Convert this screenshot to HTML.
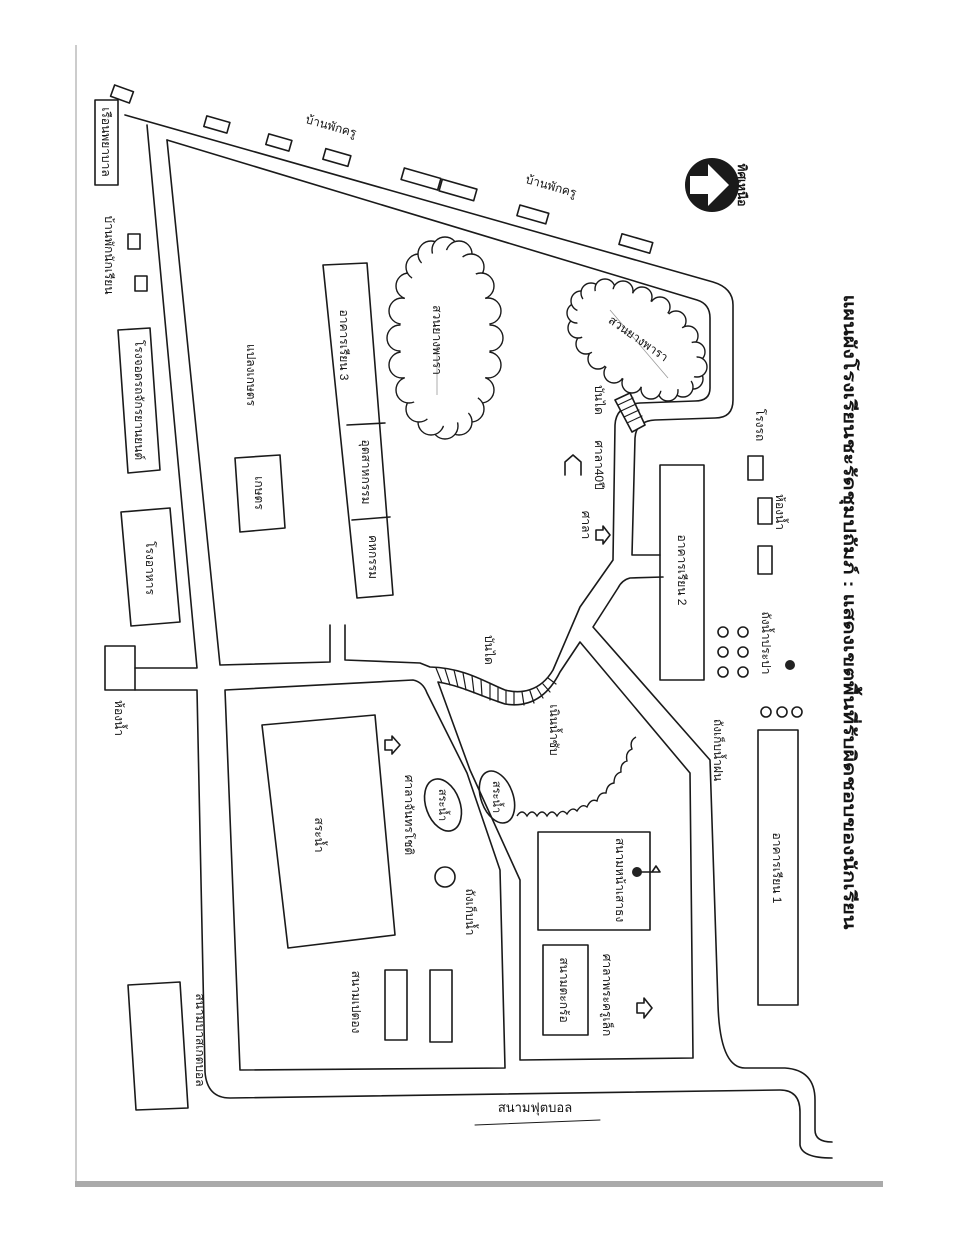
<!DOCTYPE html>
<html><head><meta charset="utf-8"><style>
html,body{margin:0;padding:0;background:#fff}
svg{display:block}
text{font-family:"Liberation Sans","Noto Sans CJK SC",sans-serif;fill:#151515}
</style></head><body>
<svg width="956" height="1238" viewBox="0 0 956 1238" xmlns="http://www.w3.org/2000/svg">
<rect width="956" height="1238" fill="#fff"/>
<line x1="76" y1="45" x2="76" y2="1185" stroke="#bbb" stroke-width="1.5"/>
<rect x="75" y="1181" width="808" height="6" fill="#aaa"/>

<!-- clouds first (under roads) -->
<g stroke="#1a1a1a" stroke-width="1.4" fill="#fff">
<circle cx="490" cy="338" r="13"/><circle cx="488" cy="365" r="13"/><circle cx="481" cy="390" r="13"/><circle cx="471" cy="409" r="13"/><circle cx="459" cy="422" r="13"/><circle cx="445" cy="426" r="13"/><circle cx="431" cy="422" r="13"/><circle cx="419" cy="409" r="13"/><circle cx="409" cy="390" r="13"/><circle cx="402" cy="365" r="13"/><circle cx="400" cy="338" r="13"/><circle cx="402" cy="311" r="13"/><circle cx="409" cy="286" r="13"/><circle cx="419" cy="267" r="13"/><circle cx="431" cy="254" r="13"/><circle cx="445" cy="250" r="13"/><circle cx="459" cy="254" r="13"/><circle cx="471" cy="267" r="13"/><circle cx="481" cy="286" r="13"/><circle cx="488" cy="311" r="13"/>
<circle cx="693" cy="379" r="10"/><circle cx="683" cy="387" r="10"/><circle cx="668" cy="391" r="10"/><circle cx="651" cy="389" r="10"/><circle cx="632" cy="383" r="10"/><circle cx="614" cy="373" r="10"/><circle cx="598" cy="359" r="10"/><circle cx="586" cy="344" r="10"/><circle cx="578" cy="328" r="10"/><circle cx="577" cy="313" r="10"/><circle cx="581" cy="301" r="10"/><circle cx="591" cy="293" r="10"/><circle cx="605" cy="289" r="10"/><circle cx="623" cy="291" r="10"/><circle cx="642" cy="297" r="10"/><circle cx="660" cy="307" r="10"/><circle cx="676" cy="321" r="10"/><circle cx="688" cy="336" r="10"/><circle cx="695" cy="352" r="10"/><circle cx="697" cy="367" r="10"/>
</g>
<g fill="#fff">
<ellipse cx="445" cy="338" rx="45" ry="88"/>
<ellipse cx="637" cy="340" rx="68" ry="40" transform="rotate(35 637 340)"/>
</g>
<line x1="437" y1="345" x2="437" y2="395" stroke="#999" stroke-width="0.8"/>
<line x1="610" y1="310" x2="668" y2="378" stroke="#999" stroke-width="0.8"/>

<g fill="none" stroke="#1a1a1a" stroke-width="1.6" stroke-linejoin="round" stroke-linecap="round">
<path d="M125,115 L713,282 Q733,288 733,305 L733,400 Q733,418 715,418 L655,420 Q636,421 635,438 L632,555 L660,555"/>
<path d="M167,140 L697,300 Q710,304 710,318 L710,388 Q710,401 695,401 L640,403 Q616,405 615,425 L613,560 L580,607 L553,670 C540,692 520,694 505,690 C485,682 465,668 430,667 L420,663 L345,660 L345,625"/>
<path d="M330,625 L330,662 L220,665 L167,140"/>
<path d="M147,125 L197,668 L135,668"/>
<path d="M135,690 L197,690 L205,1072 Q207,1098 230,1098 L780,1090 Q800,1090 800,1112 L800,1145 Q802,1158 832,1158"/>
<path d="M225,690 L413,680 Q423,682 427,693 L467,773 L500,870 L505,1068 L240,1070 Z"/>
<path d="M438,682 C462,686 480,696 505,704 C530,708 548,696 560,672 L580,642 L690,773 L693,1058 L520,1060 L520,880 L470,770 Z"/>
<path d="M663,577 L630,578 Q622,580 618,588 L593,627 L710,760 L718,1005 Q720,1068 745,1068 L785,1068 Q815,1070 815,1100 L815,1130 Q815,1142 832,1142"/>
<g stroke-width="1.2">
<line x1="436" y1="668" x2="442" y2="683"/><line x1="445" y1="669" x2="450" y2="685"/><line x1="454" y1="670" x2="458" y2="687"/>
<line x1="463" y1="673" x2="466" y2="690"/><line x1="472" y1="676" x2="474" y2="693"/><line x1="481" y1="680" x2="482" y2="696"/>
<line x1="490" y1="684" x2="490" y2="700"/><line x1="498" y1="688" x2="498" y2="702"/><line x1="506" y1="690" x2="506" y2="704"/>
<line x1="514" y1="692" x2="514" y2="705"/><line x1="522" y1="692" x2="524" y2="705"/><line x1="530" y1="691" x2="534" y2="703"/>
<line x1="537" y1="688" x2="543" y2="698"/><line x1="543" y1="684" x2="550" y2="692"/><line x1="548" y1="678" x2="556" y2="684"/>
</g>
<path d="M615,400 L630,393 L645,425 L632,432 Z" fill="#fff"/>
<g stroke-width="1.1"><line x1="618" y1="405" x2="633" y2="398"/><line x1="621" y1="411" x2="636" y2="404"/><line x1="624" y1="417" x2="639" y2="410"/><line x1="627" y1="423" x2="642" y2="416"/></g>

<rect x="112" y="88" width="20" height="12" transform="rotate(20 122 94)"/>
<rect x="205" y="119" width="24" height="11" transform="rotate(16 217 124)"/>
<rect x="267" y="137" width="24" height="11" transform="rotate(16 279 142)"/>
<rect x="324" y="152" width="26" height="11" transform="rotate(16 337 157)"/>
<rect x="402" y="173" width="38" height="12" transform="rotate(16 421 179)"/>
<rect x="440" y="184" width="36" height="12" transform="rotate(16 458 190)"/>
<rect x="518" y="209" width="30" height="11" transform="rotate(16 533 214)"/>
<rect x="620" y="238" width="32" height="11" transform="rotate(16 636 243)"/>

<rect x="95" y="100" width="23" height="85"/>
<rect x="128" y="234" width="12" height="15"/>
<rect x="135" y="276" width="12" height="15"/>
<polygon points="118,330 150,328 160,470 128,473"/>
<polygon points="121,512 170,508 180,622 131,626"/>
<rect x="105" y="646" width="30" height="44"/>

<polygon points="323,265 367,263 393,595 357,598"/>
<line x1="347" y1="425" x2="385" y2="423"/>
<line x1="352" y1="520" x2="390" y2="517"/>
<polygon points="235,458 280,455 285,528 240,532"/>

<rect x="660" y="465" width="44" height="215"/>
<rect x="748" y="456" width="15" height="24"/>
<rect x="758" y="498" width="14" height="26"/>
<rect x="758" y="546" width="14" height="28"/>
<rect x="758" y="730" width="40" height="275"/>
<polygon points="262,725 375,715 395,935 288,948"/>
<path d="M385,740 L392,740 L392,736 L400,745 L392,754 L392,750 L385,750 Z"/>
<path d="M565,475 L565,462 L573,455 L581,462 L581,475" />
<path d="M596,530 L603,530 L603,526 L610,535 L603,544 L603,540 L596,540 Z"/>
<path d="M637,1003 L644,1003 L644,998 L652,1008 L644,1018 L644,1013 L637,1013 Z"/>
<ellipse cx="443" cy="805" rx="17" ry="27" transform="rotate(-20 443 805)"/>
<ellipse cx="497" cy="797" rx="16" ry="27" transform="rotate(-20 497 797)"/>
<circle cx="445" cy="877" r="10"/>
<rect x="385" y="970" width="22" height="70"/>
<rect x="430" y="970" width="22" height="72"/>
<polygon points="128,985 180,982 188,1108 136,1110"/>
<rect x="538" y="832" width="112" height="98"/>
<rect x="543" y="945" width="45" height="90"/>
<line x1="640" y1="872" x2="652" y2="872"/>
<path d="M652,872 L656,866 L660,872 Z"/>
<line x1="475" y1="1125" x2="600" y2="1120" stroke-width="1"/>
<circle cx="723" cy="632" r="5"/><circle cx="723" cy="652" r="5"/><circle cx="723" cy="672" r="5"/>
<circle cx="743" cy="632" r="5"/><circle cx="743" cy="652" r="5"/><circle cx="743" cy="672" r="5"/>
<circle cx="766" cy="712" r="5"/><circle cx="782" cy="712" r="5"/><circle cx="797" cy="712" r="5"/>
</g>
<circle cx="790" cy="665" r="5" fill="#222"/>
<circle cx="637" cy="872" r="5" fill="#222"/>

<path d="M517,816 q5,-8 10,0 q5,-8 10,0 q5,-8 10,0 q5,-8 10,0 q5,-8 10,-2 q5,-8 10,-3 q5,-8 10,-4 q4,-9 10,-6 q2,-9 9,-8 q1,-9 8,-10 q0,-9 7,-11 q-1,-9 6,-11 q-2,-9 5,-12 q-3,-8 4,-12" fill="none" stroke="#1a1a1a" stroke-width="1.4"/>

<circle cx="712" cy="185" r="27" fill="#1a1a1a"/>
<path d="M690,176 L708,176 L708,164 L729,185 L708,206 L708,194 L690,194 Z" fill="#fff"/>

<g font-size="12">
<text transform="translate(102,142) rotate(90)" text-anchor="middle">เรือนพยาบาล</text>
<text transform="translate(105,255) rotate(90)" text-anchor="middle">บ้านพักนักเรียน</text>
<text transform="translate(135,400) rotate(90)" text-anchor="middle">โรงจอดรถจักรยานยนต์</text>
<text transform="translate(146,568) rotate(90)" text-anchor="middle">โรงอาหาร</text>
<text transform="translate(115,718) rotate(90)" text-anchor="middle">ห้องน้ำ</text>
<text transform="translate(247,375) rotate(90)" text-anchor="middle">แปลงเกษตร</text>
<text transform="translate(255,493) rotate(90)" text-anchor="middle">เกษตร</text>
<text transform="translate(340,345) rotate(90)" text-anchor="middle">อาคารเรียน 3</text>
<text transform="translate(362,472) rotate(90)" text-anchor="middle">อุตสาหกรรม</text>
<text transform="translate(369,557) rotate(90)" text-anchor="middle">คหกรรม</text>
<text transform="translate(433,340) rotate(90)" text-anchor="middle">สวนยางพารา</text>
<text transform="translate(636,342) rotate(35)" text-anchor="middle">สวนยางพารา</text>
<text transform="translate(595,400) rotate(90)" text-anchor="middle">บันได</text>
<text transform="translate(595,465) rotate(90)" text-anchor="middle">ศาลา40ปี</text>
<text transform="translate(582,525) rotate(90)" text-anchor="middle">ศาลา</text>
<text transform="translate(485,650) rotate(90)" text-anchor="middle">บันได</text>
<text transform="translate(678,570) rotate(90)" text-anchor="middle">อาคารเรียน 2</text>
<text transform="translate(756,425) rotate(90)" text-anchor="middle">โรงรถ</text>
<text transform="translate(776,512) rotate(90)" text-anchor="middle">ห้องน้ำ</text>
<text transform="translate(762,643) rotate(90)" text-anchor="middle">ถังน้ำประปา</text>
<text transform="translate(714,750) rotate(90)" text-anchor="middle">ถังเก็บน้ำฝน</text>
<text transform="translate(773,868) rotate(90)" text-anchor="middle">อาคารเรียน 1</text>
<text transform="translate(315,835) rotate(90)" text-anchor="middle">สระน้ำ</text>
<text transform="translate(405,815) rotate(90)" text-anchor="middle">ศาลาจันทรโชติ</text>
<text transform="translate(439,805) rotate(90)" text-anchor="middle" font-size="11">สระน้ำ</text>
<text transform="translate(493,797) rotate(90)" text-anchor="middle" font-size="11">สระน้ำ</text>
<text transform="translate(466,912) rotate(90)" text-anchor="middle">ถังเก็บน้ำ</text>
<text transform="translate(352,1002) rotate(90)" text-anchor="middle">สนามเปตอง</text>
<text transform="translate(196,1040) rotate(90)" text-anchor="middle">สนามบาสเกตบอล</text>
<text transform="translate(550,730) rotate(90)" text-anchor="middle">เนินน้ำซับ</text>
<text transform="translate(616,880) rotate(90)" text-anchor="middle">สนามหน้าเสาธง</text>
<text transform="translate(560,990) rotate(90)" text-anchor="middle">สนามตะกร้อ</text>
<text transform="translate(603,995) rotate(90)" text-anchor="middle">ศาลาพระครูเล็ก</text>
<text transform="translate(330,130) rotate(16)" text-anchor="middle">บ้านพักครู</text>
<text transform="translate(550,190) rotate(16)" text-anchor="middle">บ้านพักครู</text>
<text x="535" y="1112" text-anchor="middle" font-size="13">สนามฟุตบอล</text>
</g>
<text transform="translate(738,185) rotate(90)" text-anchor="middle" font-size="12" font-weight="bold">ทิศเหนือ</text>
<text transform="translate(844,612) rotate(90)" text-anchor="middle" font-size="17" font-weight="bold" textLength="635" lengthAdjust="spacingAndGlyphs">แผนผังโรงเรียนชะรัดชุมปถัมภ์ : แสดงเขตพื้นที่รับผิดชอบของนักเรียน</text>
</svg>
</body></html>
